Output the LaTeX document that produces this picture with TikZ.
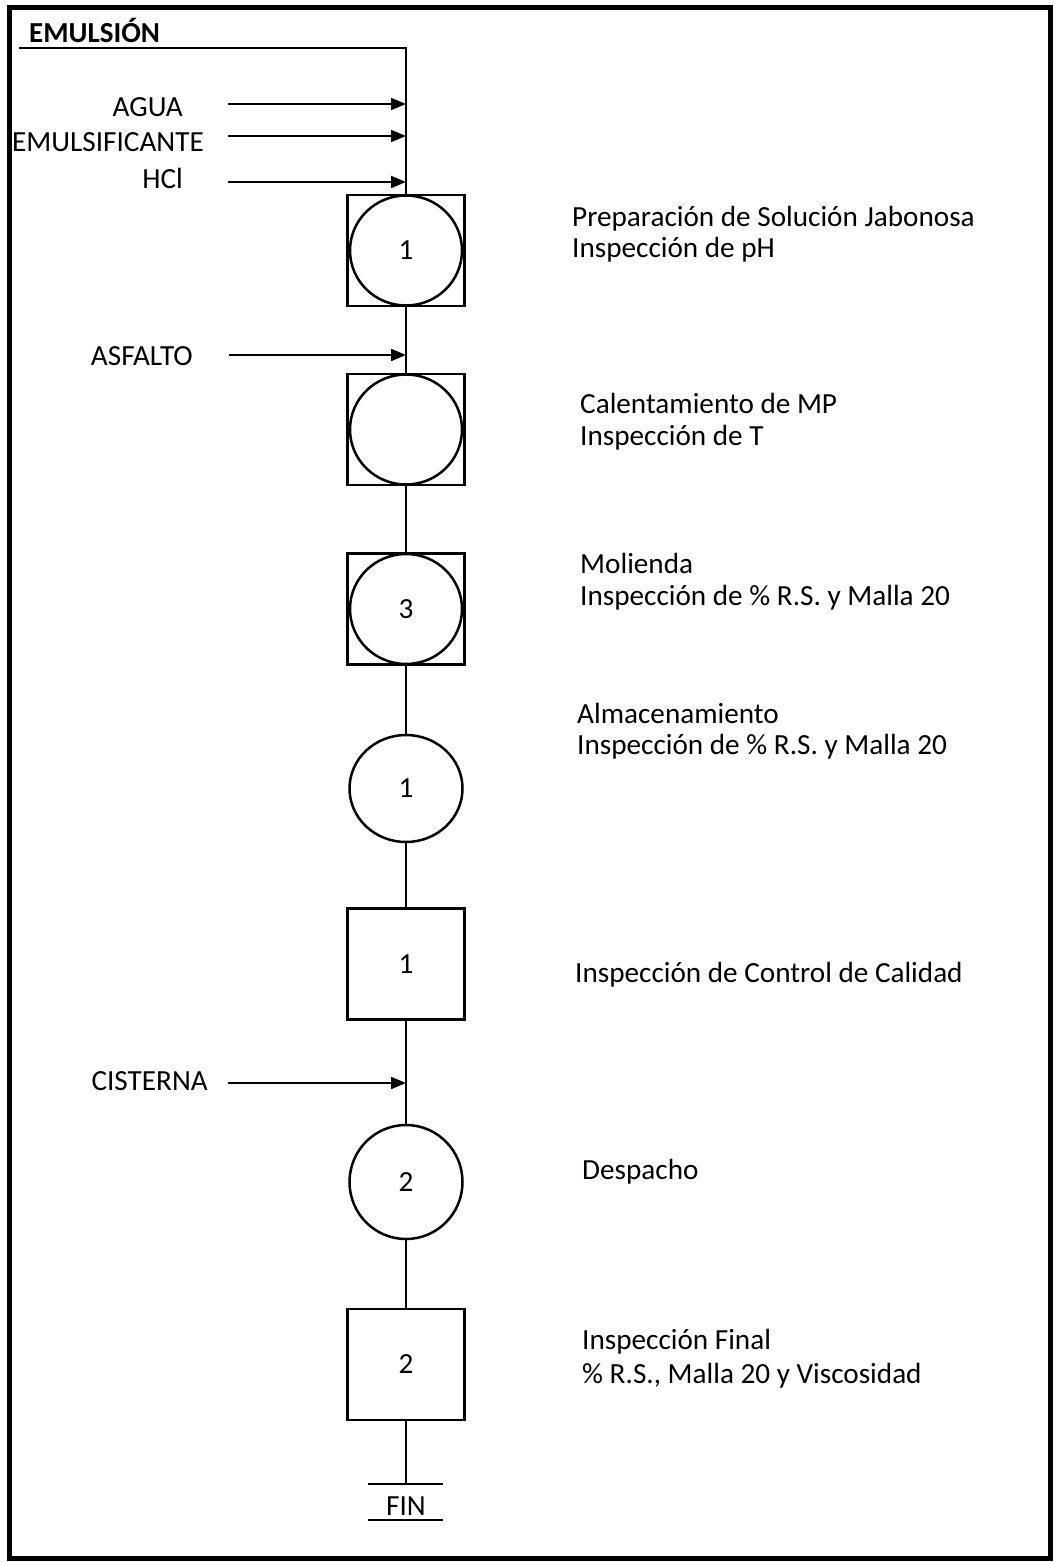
\documentclass[tikz,border=0pt]{standalone}
\usepackage{fontspec}
\setmainfont{Carlito}
\usetikzlibrary{arrows.meta,shapes.geometric}

\begin{document}
\begin{tikzpicture}[x=1pt,y=-1pt,
  font=\fontsize{29.2}{35}\selectfont,
  caja/.style={draw,rectangle,line width=2.5pt,minimum width=117pt,minimum height=111pt,inner sep=0pt},
  circ/.style={draw,ellipse,line width=2.5pt,minimum width=112pt,minimum height=110pt,inner sep=0pt},
  etiq/.style={anchor=base west,inner sep=0pt},
  entrada/.style={anchor=base east,inner sep=0pt},
  linea/.style={line width=2pt},
  flecha/.style={line width=2pt,-{Triangle[length=15pt,width=12pt]}}]
\useasboundingbox (0,0) rectangle (1063,1562);
\draw[line width=5pt] (9.5,7.5) rectangle (1050,1558);

% cabecera
\node[etiq,font=\fontsize{29}{35}\selectfont\bfseries] (emul) at (29,43) {EMULSIÓN};
\coordinate (ini) at (19,48);
\coordinate (esq) at (406,48);

% entradas
\node[entrada] (agua) at (183,117) {AGUA};
\node[entrada] (emsf) at (204,152) {EMULSIFICANTE};
\node[entrada] (hcl) at (183,189) {HCl};
\node[entrada] (asf) at (193,365) {ASFALTO};
\node[entrada] (cist) at (208,1090) {CISTERNA};

% operaciones
\node[caja] (b1) at (406,250.5) {};
\node[circ] (c1) at (b1) {1};
\node[caja] (b2) at (406,429.5) {};
\node[circ] (c2) at (b2) {};
\node[caja] (b3) at (406,609) {};
\node[circ] (c3) at (b3) {3};
\node[circ,minimum width=113pt,minimum height=107pt] (c4) at (406,788.5) {1};
\node[caja] (b5) at (406,964) {1};
\node[circ,minimum width=113pt,minimum height=114pt] (c6) at (406,1182) {2};
\node[caja] (b7) at (406,1364.5) {2};

% descripciones
\node[etiq] (d1a) at (572,227) {Preparación de Solución Jabonosa};
\node[etiq] (d1b) at (572,258) {Inspección de pH};
\node[etiq] (d2a) at (580,413) {Calentamiento de MP};
\node[etiq] (d2b) at (580,445) {Inspección de T};
\node[etiq] (d3a) at (580,573) {Molienda};
\node[etiq] (d3b) at (580,605) {Inspección de \% R.S. y Malla 20};
\node[etiq] (d4a) at (577,723) {Almacenamiento};
\node[etiq] (d4b) at (577,754) {Inspección de \% R.S. y Malla 20};
\node[etiq] (d5) at (575,982) {Inspección de Control de Calidad};
\node[etiq] (d6) at (582,1179) {Despacho};
\node[etiq] (d7a) at (582,1349) {Inspección Final};
\node[etiq] (d7b) at (582,1383) {\% R.S., Malla 20 y Viscosidad};

% fin
\coordinate (fin) at (406,1484);
\coordinate (finL) at (368,1484);
\coordinate (finR) at (443,1484);
\node[anchor=base,inner sep=0pt] (fintxt) at (406,1515) {FIN};
\coordinate (subL) at (368,1520);
\coordinate (subR) at (443,1520);

% linea principal
\draw[linea] (ini) -- (esq) -- (b1.north);
\draw[linea] (b1.south) -- (b2.north);
\draw[linea] (b2.south) -- (b3.north);
\draw[linea] (b3.south) -- (c4.north);
\draw[linea] (c4.south) -- (b5.north);
\draw[linea] (b5.south) -- (c6.north);
\draw[linea] (c6.south) -- (b7.north);
\draw[linea] (b7.south) -- (fin);
\draw[line width=2.5pt] (finL) -- (finR);
\draw[line width=2.5pt] (subL) -- (subR);

% flechas de entrada
\coordinate (agua-a) at (228,104);
\coordinate (agua-b) at (406,104);
\coordinate (emsf-a) at (228,136);
\coordinate (emsf-b) at (406,136);
\coordinate (hcl-a) at (228,182);
\coordinate (hcl-b) at (406,182);
\coordinate (asf-a) at (229,355);
\coordinate (asf-b) at (406,355);
\coordinate (cist-a) at (228,1083);
\coordinate (cist-b) at (406,1083);
\draw[flecha] (agua-a) -- (agua-b);
\draw[flecha] (emsf-a) -- (emsf-b);
\draw[flecha] (hcl-a) -- (hcl-b);
\draw[flecha] (asf-a) -- (asf-b);
\draw[flecha] (cist-a) -- (cist-b);
\end{tikzpicture}
\end{document}
